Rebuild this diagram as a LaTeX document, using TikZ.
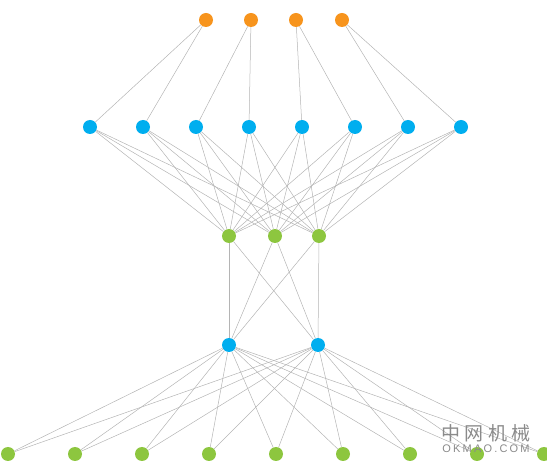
\documentclass[tikz,border=0pt]{standalone}
\usepackage{fontspec}
\usepackage{xcolor}
\usepackage{tikz}
\usetikzlibrary{positioning, calc}
\newfontfamily\cjkfont{Noto Sans CJK SC}
\newfontfamily\markfont[LetterSpace=20]{Liberation Sans}
\definecolor{netorange}{HTML}{F7941D}
\definecolor{netblue}{HTML}{00AEEF}
\definecolor{netgreen}{HTML}{8DC63F}
\definecolor{netline}{HTML}{B4B4B4}
\definecolor{marktext}{HTML}{8A8A8A}

\begin{document}
\begin{tikzpicture}[
      x=1pt, y=-1pt,
      unit/.style={
        circle,
        inner sep=0pt,
        minimum size=14pt
      },
      outunit/.style={unit, fill=netorange},
      hidunit/.style={unit, fill=netblue},
      inunit/.style={unit, fill=netgreen},
      link/.style={
        draw=netline,
        line width=0.5pt
      }
    ]
    \useasboundingbox (0,0) rectangle (547,465);

    % top layer
    \node[outunit] (o1) at (206,20) {};
    \node[outunit] (o2) at (251,20) {};
    \node[outunit] (o3) at (296,20) {};
    \node[outunit] (o4) at (342,20) {};

    % second layer
    \node[hidunit] (h1) at (90,127) {};
    \node[hidunit] (h2) at (143,127) {};
    \node[hidunit] (h3) at (196,127) {};
    \node[hidunit] (h4) at (249,127) {};
    \node[hidunit] (h5) at (302,127) {};
    \node[hidunit] (h6) at (355,127) {};
    \node[hidunit] (h7) at (408,127) {};
    \node[hidunit] (h8) at (461,127) {};

    % third layer
    \node[inunit] (g1) at (229,236) {};
    \node[inunit] (g2) at (275,236) {};
    \node[inunit] (g3) at (319,236) {};

    % fourth layer
    \node[hidunit] (b1) at (229,345) {};
    \node[hidunit] (b2) at (318,345) {};

    % bottom layer
    \node[inunit] (x1) at (8,454) {};
    \node[inunit] (x2) at (75,454) {};
    \node[inunit] (x3) at (142,454) {};
    \node[inunit] (x4) at (209,454) {};
    \node[inunit] (x5) at (276,454) {};
    \node[inunit] (x6) at (343,454) {};
    \node[inunit] (x7) at (410,454) {};
    \node[inunit] (x8) at (477,454) {};
    \node[inunit] (x9) at (544,454) {};

    % connections
    \foreach \i/\a/\b in {1/1/2, 2/3/4, 3/5/6, 4/7/8} {
      \draw[link] (o\i) -- (h\a);
      \draw[link] (o\i) -- (h\b);
    }
    \foreach \i in {1,...,8}
      \foreach \j in {1,2,3}
        \draw[link] (h\i) -- (g\j);
    \foreach \i in {1,2,3}
      \foreach \j in {1,2}
        \draw[link] (g\i) -- (b\j);
    \foreach \i in {1,2}
      \foreach \j in {1,...,9}
        \draw[link] (b\i) -- (x\j);

    % watermark
    \node[text=marktext, font=\cjkfont\fontsize{19}{19}\selectfont] (markcn) at (486,433) {中\hspace{4.5pt}网\hspace{4.5pt}机\hspace{4.5pt}械};
    \node[text=marktext, font=\markfont\fontsize{11}{11}\selectfont, inner sep=0pt] (markla) at (486,449) {OKMAO.COM};

    \end{tikzpicture}
\end{document}
